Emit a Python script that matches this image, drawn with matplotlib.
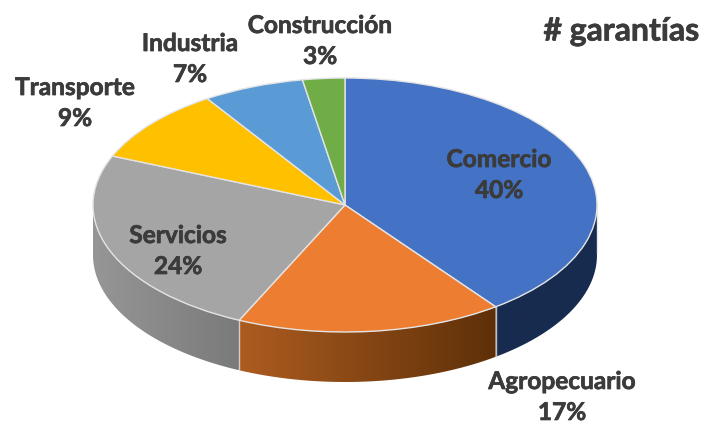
import numpy as np
import matplotlib
matplotlib.use("Agg")
import matplotlib.pyplot as plt
import matplotlib.patheffects as pe
from matplotlib.colors import LinearSegmentedColormap
from matplotlib.patches import Polygon

# data
sectors = ["Comercio", "Agropecuario", "Servicios", "Transporte", "Industria", "Construcción"]
shares = [39.8, 17.1, 24.4, 9.5, 6.5, 2.7]
share_labels = ["40%", "17%", "24%", "9%", "7%", "3%"]
top_colors = ["#4472c4", "#ed7d31", "#a5a5a5", "#ffc000", "#5b9bd5", "#70ad47"]

# side wall gradients, left to right
side_colors = {
    "Comercio": ("#172b4f", "#172b4f"),
    "Agropecuario": ("#ad5c20", "#5e3008"),
    "Servicios": ("#969696", "#7a7a7a"),
}

W, H = 704, 423
cx, cy, rx, ry = 345, 205, 252, 127
depth = 50 / ry

plt.rcParams["font.family"] = ["Lato", "DejaVu Sans"]
fig = plt.figure(figsize=(W / 100, H / 100), dpi=100)
ax = fig.add_axes([0, 0, 1, 1])

edge = "#e4e4e4"
xlim = (-cx / rx, (W - cx) / rx)
ylim = ((cy - H) / ry, cy / ry)

# side walls first, pie goes on top
bounds = np.cumsum([0] + shares) / sum(shares) * 2 * np.pi
for name, a0, a1 in zip(sectors, bounds[:-1], bounds[1:]):
    if name not in side_colors:
        continue
    t = np.linspace(a0, a1, 120)
    x, y = np.sin(t), np.cos(t)
    keep = y <= 0.02
    x, y = x[keep], y[keep]
    verts = np.r_[np.c_[x, y], np.c_[x[::-1], y[::-1] - depth]]
    cmap = LinearSegmentedColormap.from_list(name, side_colors[name])
    img = ax.imshow(np.linspace(0, 1, 256)[None, :], cmap=cmap, aspect="auto", zorder=1,
                    extent=(x.min(), x.max(), y.min() - depth, y.max()))
    poly = Polygon(verts, closed=True, transform=ax.transData, fc="none", ec="none")
    ax.add_patch(poly)
    img.set_clip_path(poly)
    # seam at the lower end of the wall
    ax.plot([x[0], x[0]], [y[0], y[0] - depth], color=edge, lw=1, zorder=1.5, alpha=0.8)

wedges, _ = ax.pie(shares, colors=top_colors, startangle=90, counterclock=False, radius=1,
                   wedgeprops={"edgecolor": edge, "linewidth": 1})
for w in wedges:
    w.set_zorder(2)

ax.set_aspect("auto")
ax.set_xlim(xlim)
ax.set_ylim(ylim)
ax.axis("off")

# thin stroke, Lato bold is lighter than the original face
heavy = [pe.withStroke(linewidth=0.5, foreground="#3b3b3b")]

# labels, pixel positions of the text centres
label_px = [(499, 175), (562, 397), (178, 251), (75, 103), (190, 59), (320, 41)]
for name, val, (px, py) in zip(sectors, share_labels, label_px):
    ax.text(px / W, 1 - py / H, f"{name}\n{val}", transform=ax.transAxes, ha="center", va="center",
            fontsize=17.6, fontweight="bold", color="#3b3b3b", linespacing=1.42, zorder=3,
            path_effects=heavy)

ax.text(621.5 / W, 1 - 31 / H, "# garantías", transform=ax.transAxes, ha="center", va="center",
        fontsize=23, fontweight="bold", color="#3b3b3b", path_effects=heavy)

fig.savefig("out.png", dpi=100)
